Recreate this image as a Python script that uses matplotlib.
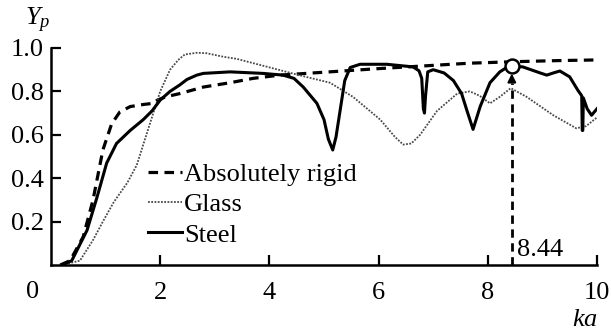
import matplotlib
matplotlib.use("Agg")
import matplotlib.pyplot as plt
import numpy as np

plt.rcParams['font.family'] = ['Liberation Serif', 'DejaVu Serif']
plt.rcParams['mathtext.fontset'] = 'custom'
plt.rcParams['mathtext.it'] = 'Liberation Serif:italic'
plt.rcParams['mathtext.rm'] = 'Liberation Serif'

# Absolutely rigid (dashed)
rigid_x = [0.17, 0.35, 0.59, 0.77, 0.95, 1.11, 1.26, 1.45, 1.7, 1.87, 1.95, 2.1, 2.36, 2.79, 3.28, 3.7, 4.19, 5.1, 6.0, 7.0, 7.67, 8.5, 9.3, 10.0]
rigid_y = [0.0, 0.02, 0.13, 0.30, 0.53, 0.65, 0.705, 0.73, 0.74, 0.745, 0.76, 0.775, 0.79, 0.82, 0.84, 0.86, 0.875, 0.89, 0.905, 0.92, 0.93, 0.937, 0.942, 0.945]

# Glass (dotted)
glass_x = [0.2, 0.53, 0.77, 0.95, 1.15, 1.4, 1.57, 1.81, 2.0, 2.18, 2.33, 2.45, 2.67, 2.85, 3.15, 3.4, 4.01, 4.62, 5.11, 5.53, 6.03, 6.3, 6.45, 6.6, 6.76, 7.07, 7.44, 7.67, 7.85, 8.04, 8.22, 8.42, 8.71, 9.2, 9.62, 9.8, 10.0]
glass_y = [0.0, 0.02, 0.115, 0.20, 0.29, 0.38, 0.46, 0.65, 0.80, 0.90, 0.945, 0.97, 0.978, 0.976, 0.96, 0.95, 0.91, 0.87, 0.84, 0.775, 0.67, 0.59, 0.555, 0.56, 0.60, 0.71, 0.79, 0.80, 0.78, 0.745, 0.775, 0.815, 0.775, 0.69, 0.63, 0.64, 0.68]

# Steel (solid)
steel_x = [0.2, 0.38, 0.66, 0.84, 1.02, 1.2, 1.45, 1.69, 1.85, 2.0, 2.18, 2.36, 2.49, 2.67, 2.79, 3.28, 3.88, 4.25, 4.45, 4.62, 4.87, 5.0, 5.08, 5.16, 5.22, 5.3, 5.38, 5.48, 5.66, 6.15, 6.63, 6.74, 6.79, 6.82, 6.84, 6.86, 6.9, 7.0, 7.2, 7.37, 7.52, 7.62, 7.73, 7.86, 8.04, 8.22, 8.39, 8.64, 8.96, 9.08, 9.2, 9.32, 9.5, 9.65, 9.72, 9.73, 9.74, 9.75, 9.82, 9.9, 10.0]
steel_y = [0.0, 0.02, 0.16, 0.31, 0.47, 0.56, 0.62, 0.67, 0.71, 0.76, 0.80, 0.83, 0.855, 0.875, 0.883, 0.89, 0.883, 0.875, 0.86, 0.82, 0.745, 0.67, 0.58, 0.53, 0.59, 0.72, 0.85, 0.91, 0.925, 0.925, 0.913, 0.895, 0.86, 0.72, 0.70, 0.78, 0.89, 0.90, 0.885, 0.85, 0.79, 0.71, 0.625, 0.73, 0.84, 0.89, 0.917, 0.913, 0.885, 0.875, 0.885, 0.894, 0.867, 0.805, 0.78, 0.62, 0.62, 0.77, 0.72, 0.69, 0.72]

labels = ["Absolutely rigid", "Glass", "Steel"]
x_ticks = [2, 4, 6, 8, 10]
y_ticks = [0.2, 0.4, 0.6, 0.8, 1.0]
mark_x = 8.44
mark_y = 0.918

FS = 19
W, H = 611, 335
fig = plt.figure(figsize=(W / 100, H / 100), dpi=100)
ax = fig.add_axes([51 / W, (H - 265) / H, (597 - 51) / W, (265 - 48) / H])

ax.plot(rigid_x, rigid_y, color='black', lw=2.3, ls=(0, (3, 2)), label=labels[0])
ax.plot(glass_x, glass_y, color='#4a4a4a', lw=1.3, ls=(0, (1, 0.8)), label=labels[1])
ax.plot(steel_x, steel_y, color='black', lw=2.2, ls='-', label=labels[2])

# marker line + arrow + circle
ax.plot([mark_x, mark_x], [0, 0.84], color='black', lw=2.0, ls=(0, (3, 2)))
ax.annotate('', xy=(mark_x, 0.895), xytext=(mark_x, 0.83),
            arrowprops=dict(arrowstyle='-|>', color='black', lw=1.5, mutation_scale=12))
ax.plot([mark_x], [mark_y], marker='o', ms=10, mfc='white', mec='black', mew=1.8)
ax.text(8.53, 0.07, "8.44", fontsize=FS, ha='left', va='center')

ax.set_xlim(0, 10)
ax.set_ylim(0, 1.0)
ax.set_xticks(x_ticks)
ax.set_xticklabels([str(t) for t in x_ticks])
ax.set_yticks(y_ticks)
ax.set_yticklabels([f"{t:.1f}" for t in y_ticks])
ax.tick_params(direction='in', length=7, width=1.6, labelsize=FS)
ax.tick_params(axis='x', pad=12)
ax.tick_params(axis='y', pad=5)
for s in ['top', 'right']:
    ax.spines[s].set_visible(False)
for s in ['left', 'bottom']:
    ax.spines[s].set_linewidth(1.8)

fig.text(33 / W, (H - 292) / H, "0", fontsize=FS, ha='center', va='center')
fig.text(38 / W, (H - 20) / H, r"$Y_p$", fontsize=FS, ha='center', va='center')
fig.text(585 / W, (H - 320) / H, r"$ka$", fontsize=FS, ha='center', va='center')

leg = ax.legend(loc='upper left', bbox_to_anchor=(0.178, 0.472), frameon=False,
                handlelength=1.3, handletextpad=0.05, labelspacing=0.26,
                borderaxespad=0, borderpad=0, fontsize=FS)

fig.savefig("out.png", dpi=100)
